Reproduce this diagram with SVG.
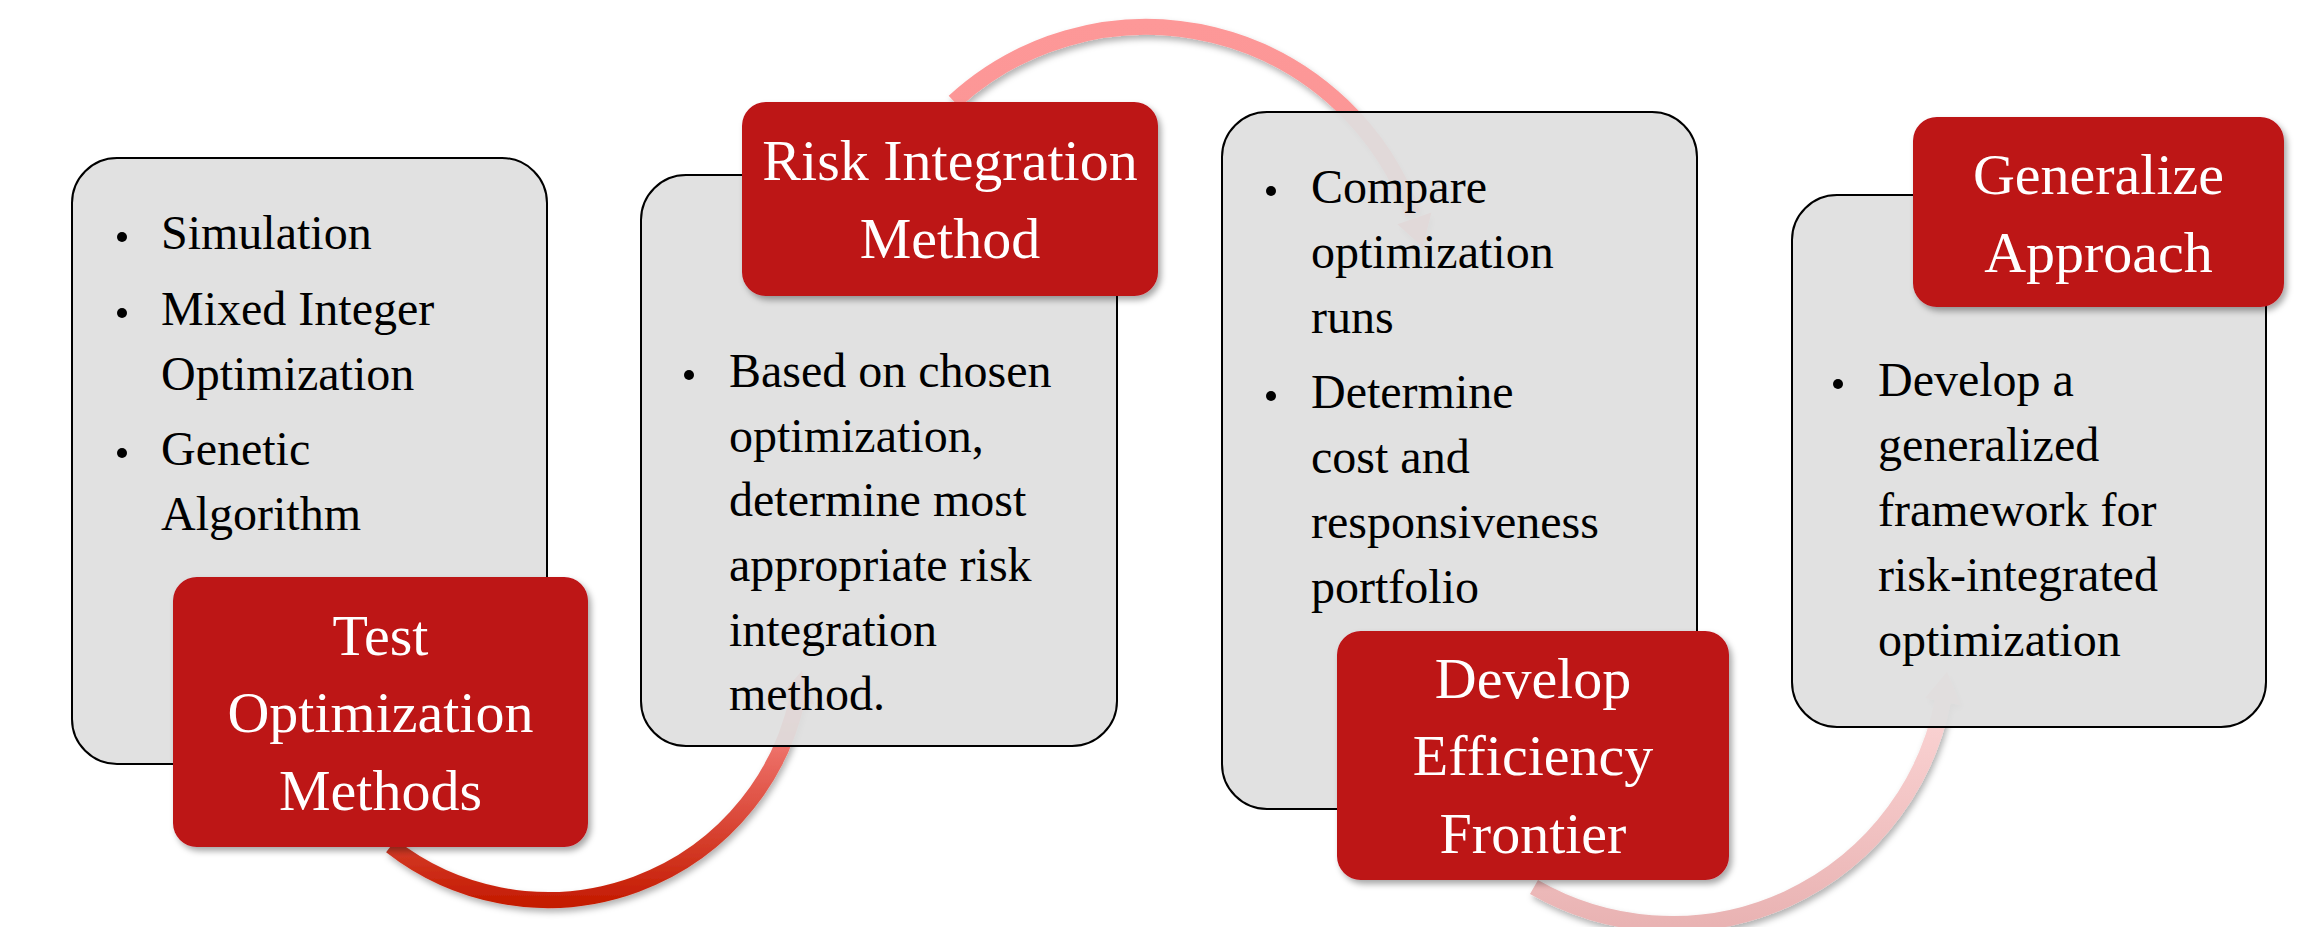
<svg xmlns="http://www.w3.org/2000/svg" width="2313" height="927" viewBox="0 0 2313 927">
  <defs>
    <style>
      .detail { fill: #DEDEDE; fill-opacity: 0.92; stroke: #000; stroke-width: 2; }
      .title { fill: #BD1218; }
      .dt { font-family: "Liberation Serif", "Times New Roman", serif; font-size: 48px; fill: #000; }
      .tt { font-family: "Liberation Serif", "Times New Roman", serif; font-size: 58px; fill: #FFF; text-anchor: middle; }
      .bul { fill: #000; }
      .arc { fill: none; stroke-width: 16; }
    </style>
    <filter id="sh" x="-20%" y="-20%" width="140%" height="140%">
      <feDropShadow dx="3" dy="4" stdDeviation="3" flood-color="#000" flood-opacity="0.35"/>
    </filter>
    <filter id="ash" x="-20%" y="-20%" width="140%" height="140%">
      <feDropShadow dx="2" dy="4" stdDeviation="3" flood-color="#000" flood-opacity="0.3"/>
    </filter>
    <linearGradient id="g1" gradientUnits="userSpaceOnUse" x1="0" y1="905" x2="0" y2="680">
      <stop offset="0" stop-color="#C41A00"/>
      <stop offset="1" stop-color="#FF9696"/>
    </linearGradient>
    <linearGradient id="g2" gradientUnits="userSpaceOnUse" x1="0" y1="20" x2="0" y2="250">
      <stop offset="0" stop-color="#FD9898"/>
      <stop offset="1" stop-color="#FA9494"/>
    </linearGradient>
    <linearGradient id="g3" gradientUnits="userSpaceOnUse" x1="0" y1="925" x2="0" y2="690">
      <stop offset="0" stop-color="#E9B3B3"/>
      <stop offset="1" stop-color="#FCD6D6"/>
    </linearGradient>
  </defs>
  <rect width="2313" height="927" fill="#FFFFFF"/>

  <g id="connectors">
    <g id="arrow-1-2" filter="url(#ash)">
      <path class="arc" stroke="url(#g1)" d="M 391 845.9 A 255 255 0 0 0 797.9 695.8"/>
      <polygon fill="url(#g1)" points="801.7,671 814.5,704.5 779.3,696.7"/>
    </g>
    <g id="arrow-2-3" filter="url(#ash)">
      <path class="arc" stroke="url(#g2)" d="M 954.1 101.6 A 284 284 0 0 1 1412.9 213.9"/>
      <polygon fill="url(#g2)" points="1422.7,247.1 1431.4,212.4 1397.4,224.2"/>
    </g>
    <g id="arrow-3-4" filter="url(#ash)">
      <path class="arc" stroke="url(#g3)" d="M 1534 887 A 276 276 0 0 0 1943.4 698.3"/>
      <polygon fill="url(#g3)" points="1947,671.7 1960.5,704.9 1925.1,697.9"/>
    </g>
  </g>

  <g id="detail-1">
    <rect class="detail" x="72" y="158" width="475" height="606" rx="45"/>
    <circle class="bul" cx="122" cy="237" r="5"/>
    <circle class="bul" cx="122" cy="313" r="5"/>
    <circle class="bul" cx="122" cy="453" r="5"/>
    <text class="dt" x="161" y="249">Simulation</text>
    <text class="dt" x="161" y="325">Mixed Integer</text>
    <text class="dt" x="161" y="390">Optimization</text>
    <text class="dt" x="161" y="465">Genetic</text>
    <text class="dt" x="161" y="530">Algorithm</text>
  </g>

  <g id="detail-2">
    <rect class="detail" x="641" y="175" width="476" height="571" rx="45"/>
    <circle class="bul" cx="689" cy="375" r="5"/>
    <text class="dt" x="729" y="387">Based on chosen</text>
    <text class="dt" x="729" y="452">optimization,</text>
    <text class="dt" x="729" y="516">determine most</text>
    <text class="dt" x="729" y="581">appropriate risk</text>
    <text class="dt" x="729" y="646">integration</text>
    <text class="dt" x="729" y="710">method.</text>
  </g>

  <g id="detail-3">
    <rect class="detail" x="1222" y="112" width="475" height="697" rx="45"/>
    <circle class="bul" cx="1271" cy="191" r="5"/>
    <circle class="bul" cx="1271" cy="396" r="5"/>
    <text class="dt" x="1311" y="203">Compare</text>
    <text class="dt" x="1311" y="268">optimization</text>
    <text class="dt" x="1311" y="333">runs</text>
    <text class="dt" x="1311" y="408">Determine</text>
    <text class="dt" x="1311" y="473">cost and</text>
    <text class="dt" x="1311" y="538">responsiveness</text>
    <text class="dt" x="1311" y="603">portfolio</text>
  </g>

  <g id="detail-4">
    <rect class="detail" x="1792" y="195" width="474" height="532" rx="45"/>
    <circle class="bul" cx="1838" cy="384" r="5"/>
    <text class="dt" x="1878" y="396">Develop a</text>
    <text class="dt" x="1878" y="461">generalized</text>
    <text class="dt" x="1878" y="526">framework for</text>
    <text class="dt" x="1878" y="591">risk-integrated</text>
    <text class="dt" x="1878" y="656">optimization</text>
  </g>

  <g id="title-1">
    <rect class="title" x="173" y="577" width="415" height="270" rx="24" filter="url(#sh)"/>
    <text class="tt" x="380.5" y="655">Test</text>
    <text class="tt" x="380.5" y="732">Optimization</text>
    <text class="tt" x="380.5" y="810">Methods</text>
  </g>

  <g id="title-2">
    <rect class="title" x="742" y="102" width="416" height="194" rx="24" filter="url(#sh)"/>
    <text class="tt" x="950" y="180">Risk Integration</text>
    <text class="tt" x="950" y="258">Method</text>
  </g>

  <g id="title-3">
    <rect class="title" x="1337" y="631" width="392" height="249" rx="24" filter="url(#sh)"/>
    <text class="tt" x="1533" y="698">Develop</text>
    <text class="tt" x="1533" y="775">Efficiency</text>
    <text class="tt" x="1533" y="853">Frontier</text>
  </g>

  <g id="title-4">
    <rect class="title" x="1913" y="117" width="371" height="190" rx="24" filter="url(#sh)"/>
    <text class="tt" x="2098.5" y="194">Generalize</text>
    <text class="tt" x="2098.5" y="272">Approach</text>
  </g>
</svg>
